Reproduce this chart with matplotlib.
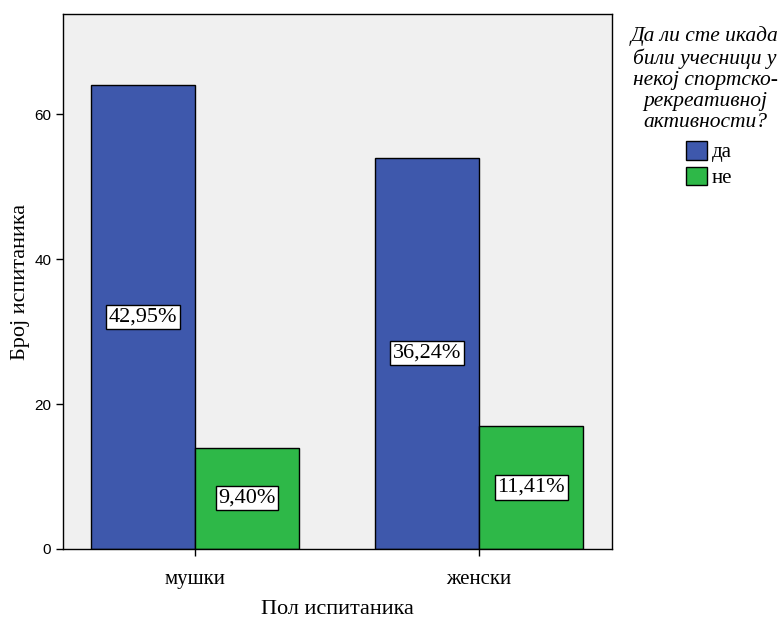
import matplotlib
matplotlib.use("Agg")
import matplotlib.pyplot as plt
import numpy as np
from matplotlib.patches import Patch

categories = ["мушки", "женски"]
series_names = ["да", "не"]
yes_counts = [64, 54]
no_counts = [14, 17]
yes_pct = ["42,95%", "36,24%"]
no_pct = ["9,40%", "11,41%"]
yticks = [0, 20, 40, 60]

colors = ["#3E58AC", "#2EB848"]
serif = "Liberation Serif"
sans = "Liberation Sans"

fig = plt.figure(figsize=(7.82, 6.18), dpi=100)
ax = fig.add_axes([63/782, 69/618, (612-63)/782, (549-14)/618])
ax.set_facecolor("#F0F0F0")

x = np.arange(len(categories))
w = 0.366
b1 = ax.bar(x - w/2, yes_counts, w, color=colors[0], edgecolor="black", linewidth=1)
b2 = ax.bar(x + w/2, no_counts, w, color=colors[1], edgecolor="black", linewidth=1)

for bars, labels in [(b1, yes_pct), (b2, no_pct)]:
    for rect, lab in zip(bars, labels):
        ax.text(rect.get_x() + rect.get_width()/2, rect.get_height()/2, lab,
                ha="center", va="center", fontsize=16, family=serif,
                bbox=dict(boxstyle="square,pad=0.12", fc="white", ec="black", lw=1))

ax.set_xlim(-0.465, 1.468)
ax.set_ylim(0, 73.8)
ax.set_xticks(x)
ax.set_xticklabels(categories, fontsize=15, family=serif)
ax.set_yticks(yticks)
ax.set_yticklabels([str(v) for v in yticks], fontsize=11, family=sans)
ax.tick_params(axis="both", direction="out", length=5, width=1, color="black")
ax.tick_params(axis="x", pad=10)
for s in ax.spines.values():
    s.set_linewidth(1)
    s.set_color("black")
ax.set_xlabel("Пол испитаника", fontsize=16, family=serif, va="center")
ax.xaxis.set_label_coords(0.5, -(609 - 549) / 535)
ax.set_ylabel("Број испитаника", fontsize=16, family=serif, labelpad=3)

fig.text(705/782, 1 - 26/618,
         "Да ли сте икада\nбили учесници у\nнекој спортско-\nрекреативној\nактивности?",
         ha="center", va="top", fontsize=15.5, family=serif, style="italic", linespacing=1.15)

handles = [Patch(facecolor=colors[i], edgecolor="black", label=series_names[i]) for i in range(2)]
fig.legend(handles=handles, loc="upper left", bbox_to_anchor=(686/782, 1 - 141/618),
           frameon=False, prop={"family": serif, "size": 15},
           handlelength=1.0, handleheight=1.0, handletextpad=0.25, labelspacing=0.2,
           borderaxespad=0, borderpad=0)

fig.savefig("out.png", dpi=100)
